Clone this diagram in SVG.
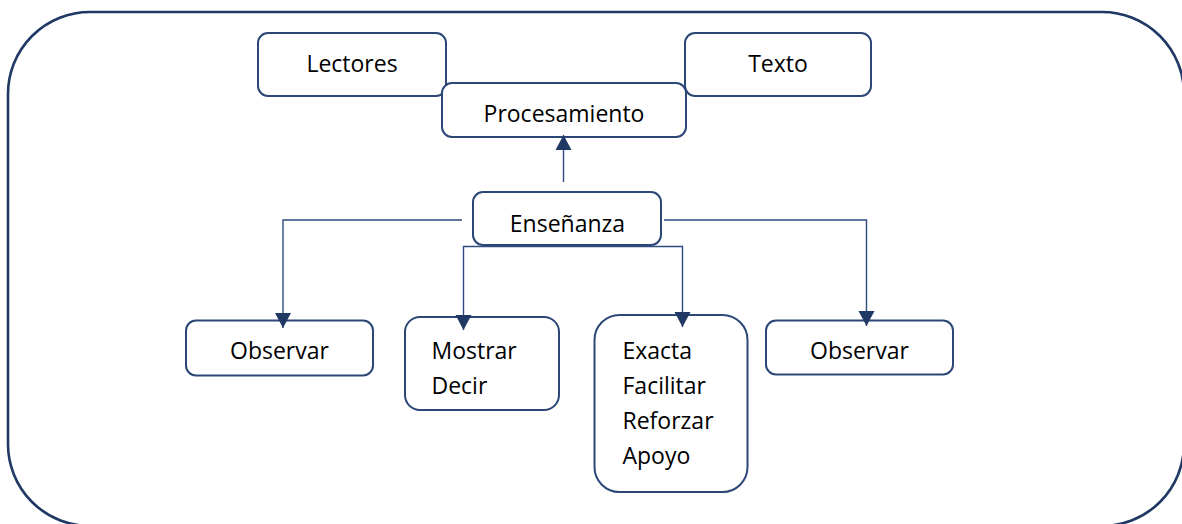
<svg xmlns="http://www.w3.org/2000/svg" width="1182" height="524" viewBox="0 0 1182 524">
<style>
.frame{fill:#fff;stroke:#203864;stroke-width:2.6}
.box{fill:#fff;stroke:#2B4776;stroke-width:2}
.lbl{font-family:"Open Sans","Noto Sans","Liberation Sans",sans-serif;font-size:23px;fill:#000}
.mid{text-anchor:middle}
.con{fill:none;stroke:#2F4A80;stroke-width:1.4}
</style>
<defs>
<marker id="ah" markerUnits="userSpaceOnUse" markerWidth="18" markerHeight="18" viewBox="0 0 18 18" refX="15" refY="9" orient="auto">
<path d="M0,1 L15,9 L0,17 Z" fill="#1F3864"/>
</marker>
</defs>
<rect class="frame" x="8" y="12" width="1176" height="514" rx="82" ry="82"/>
<g id="lectores">
<rect class="box" x="258" y="33" width="188" height="63" rx="10"/>
<text class="lbl mid" x="352" y="72">Lectores</text>
</g>
<g id="texto">
<rect class="box" x="685" y="33" width="186" height="63" rx="10"/>
<text class="lbl mid" x="778" y="72">Texto</text>
</g>
<g id="procesamiento">
<rect class="box" x="442" y="83" width="244" height="54" rx="10"/>
<text class="lbl mid" x="564" y="121.5">Procesamiento</text>
</g>
<g id="ensenanza">
<rect class="box" x="473" y="192" width="188" height="53" rx="10"/>
<text class="lbl mid" x="567.5" y="232">Enseñanza</text>
</g>
<g id="observar-left">
<rect class="box" x="186" y="320.5" width="187" height="55" rx="10"/>
<text class="lbl mid" x="279.5" y="359">Observar</text>
</g>
<g id="mostrar-decir">
<rect class="box" x="405" y="317" width="154" height="93" rx="15"/>
<text class="lbl" x="431.5" y="358.5">Mostrar</text>
<text class="lbl" x="431.5" y="394">Decir</text>
</g>
<g id="exacta">
<rect class="box" x="594.5" y="315" width="153" height="177" rx="25"/>
<text class="lbl" x="622.5" y="359">Exacta</text>
<text class="lbl" x="622.5" y="394">Facilitar</text>
<text class="lbl" x="622.5" y="429">Reforzar</text>
<text class="lbl" x="622.5" y="464">Apoyo</text>
</g>
<g id="observar-right">
<rect class="box" x="766" y="320.5" width="187" height="54" rx="10"/>
<text class="lbl mid" x="859.5" y="359">Observar</text>
</g>
<g id="connectors">
<path class="con" d="M563.5,182 V135" marker-end="url(#ah)"/>
<path class="con" d="M462,220 H283 V328" marker-end="url(#ah)"/>
<path class="con" d="M664,220 H866.5 V326" marker-end="url(#ah)"/>
<path class="con" d="M567,246.5 H463.5 V330" marker-end="url(#ah)"/>
<path class="con" d="M567,246.5 H682.5 V327" marker-end="url(#ah)"/>
</g>
</svg>
